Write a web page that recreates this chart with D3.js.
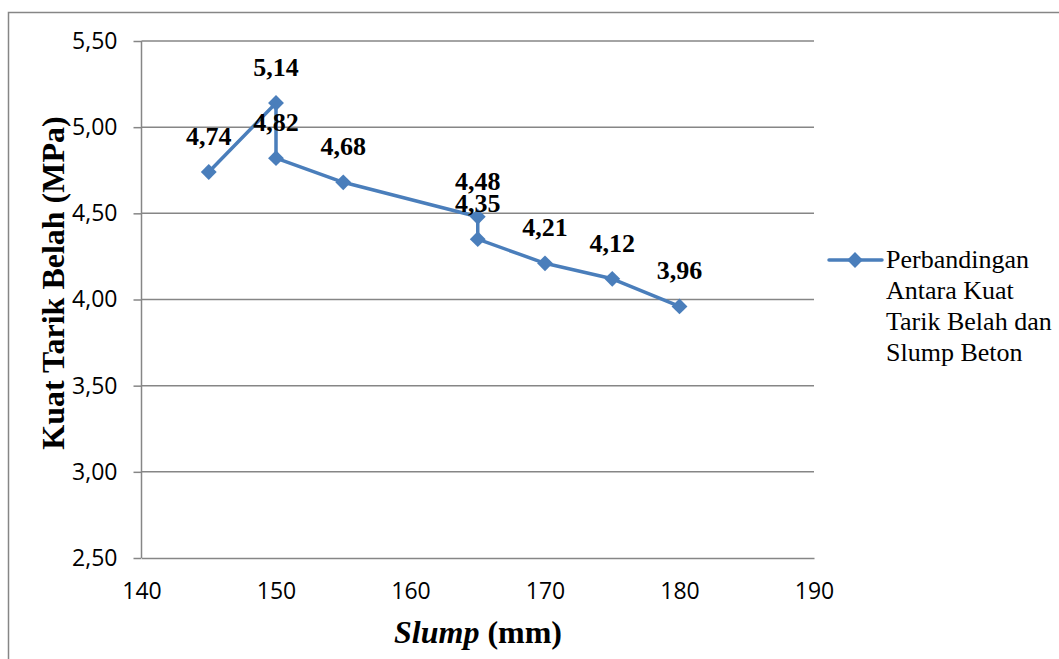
<!DOCTYPE html>
<html>
<head>
<meta charset="utf-8">
<script src="https://cdn.jsdelivr.net/npm/d3@7"></script>
<style>
  body { margin: 0; background: #fff; }
  .tick text { font-family: "Open Sans", sans-serif; font-size: 23px; fill: #000; }
  .label { font-family: "Liberation Serif", "Times New Roman", serif; font-weight: bold; font-size: 32px; fill: #000; }
  .dlabel { font-family: "Liberation Serif", "Times New Roman", serif; font-weight: bold; font-size: 26px; fill: #000; }
  .legend { font-family: "Liberation Serif", "Times New Roman", serif; font-size: 26px; fill: #000; }
</style>
</head>
<body>
<script>
//Data
const slump = [145, 150, 150, 155, 165, 165, 170, 175, 180];
const strength = [4.74, 5.14, 4.82, 4.68, 4.48, 4.35, 4.21, 4.12, 3.96];
const xTicks = [140, 150, 160, 170, 180, 190];
const yTicks = [2.5, 3.0, 3.5, 4.0, 4.5, 5.0, 5.5];
const legendLines = ["Perbandingan", "Antara Kuat", "Tarik Belah dan", "Slump Beton"];

const width = 1059;
const height = 659;
const blue = "#4a7ebb";
const gridColor = "#868686";

const data = slump.map((s, i) => ({x: s, y: strength[i]}));

//Scales
const xScale = d3.scaleLinear().domain([140, 190]).range([141.5, 814]);
const yScale = d3.scaleLinear().domain([2.5, 5.5]).range([558, 41]);

const svg = d3.select("body").append("svg")
    .attr("width", width)
    .attr("height", height);

//Outer frame
svg.append("rect")
    .attr("x", 8.5).attr("y", 12.5)
    .attr("width", width).attr("height", height)
    .attr("fill", "none")
    .attr("stroke", gridColor)
    .attr("stroke-width", 1.5);

//Gridlines
svg.append("g")
    .selectAll("line")
    .data(yTicks.slice(1))
    .join("line")
    .attr("x1", xScale(140)).attr("x2", xScale(190))
    .attr("y1", d => yScale(d)).attr("y2", d => yScale(d))
    .attr("stroke", gridColor)
    .attr("stroke-width", 1.5);

//Axes
const leftAxis = d3.axisLeft(yScale)
    .tickValues(yTicks)
    .tickSize(8)
    .tickPadding(16)
    .tickFormat(d => d3.format(".2f")(d).replace(".", ","));

const bottomAxis = d3.axisBottom(xScale)
    .tickValues(xTicks)
    .tickSize(0)
    .tickPadding(25);

const gy = svg.append("g")
    .attr("transform", "translate(" + xScale(140) + ",0)")
    .call(leftAxis);
gy.select(".domain").remove();
gy.selectAll(".tick line").attr("stroke", gridColor).attr("stroke-width", 1.5);
gy.append("line")
    .attr("y1", yScale(2.5)).attr("y2", yScale(5.5))
    .attr("stroke", gridColor).attr("stroke-width", 1.5);

const gx = svg.append("g")
    .attr("transform", "translate(0," + yScale(2.5) + ")")
    .call(bottomAxis);
gx.select(".domain").attr("stroke", gridColor).attr("stroke-width", 1.5);
gy.raise();

//Line
const line = d3.line().x(d => xScale(d.x)).y(d => yScale(d.y));
svg.append("path")
    .datum(data)
    .attr("d", line)
    .attr("fill", "none")
    .attr("stroke", blue)
    .attr("stroke-width", 3.5)
    .attr("stroke-linejoin", "round");

//Markers
const diamond = d3.symbol().type(d3.symbolDiamond2).size(160);
svg.append("g")
    .selectAll("path")
    .data(data)
    .join("path")
    .attr("d", diamond)
    .attr("transform", d => "translate(" + xScale(d.x) + "," + yScale(d.y) + ")")
    .attr("fill", blue);

//Data labels
svg.append("g")
    .selectAll("text")
    .data(data)
    .join("text")
    .attr("class", "dlabel")
    .attr("x", d => xScale(d.x))
    .attr("y", d => yScale(d.y) - 27)
    .attr("text-anchor", "middle")
    .text(d => d3.format(".2f")(d.y).replace(".", ","));

//Axis titles
const xt = svg.append("text")
    .attr("class", "label")
    .attr("x", 478)
    .attr("y", 643)
    .attr("text-anchor", "middle");
xt.append("tspan").attr("font-style", "italic").text("Slump");
xt.append("tspan").text(" (mm)");

svg.append("text")
    .attr("class", "label")
    .attr("transform", "translate(64,283) rotate(-90)")
    .attr("text-anchor", "middle")
    .text("Kuat Tarik Belah (MPa)");

//Legend
svg.append("line")
    .attr("x1", 829).attr("x2", 882)
    .attr("y1", 260).attr("y2", 260)
    .attr("stroke", blue)
    .attr("stroke-width", 3.5)
    .attr("stroke-linecap", "round");
svg.append("path")
    .attr("d", diamond)
    .attr("transform", "translate(855,260)")
    .attr("fill", blue);

svg.append("g")
    .selectAll("text")
    .data(legendLines)
    .join("text")
    .attr("class", "legend")
    .attr("x", 886)
    .attr("y", (d, i) => 268 + i * 31)
    .text(d => d);
</script>
</body>
</html>
